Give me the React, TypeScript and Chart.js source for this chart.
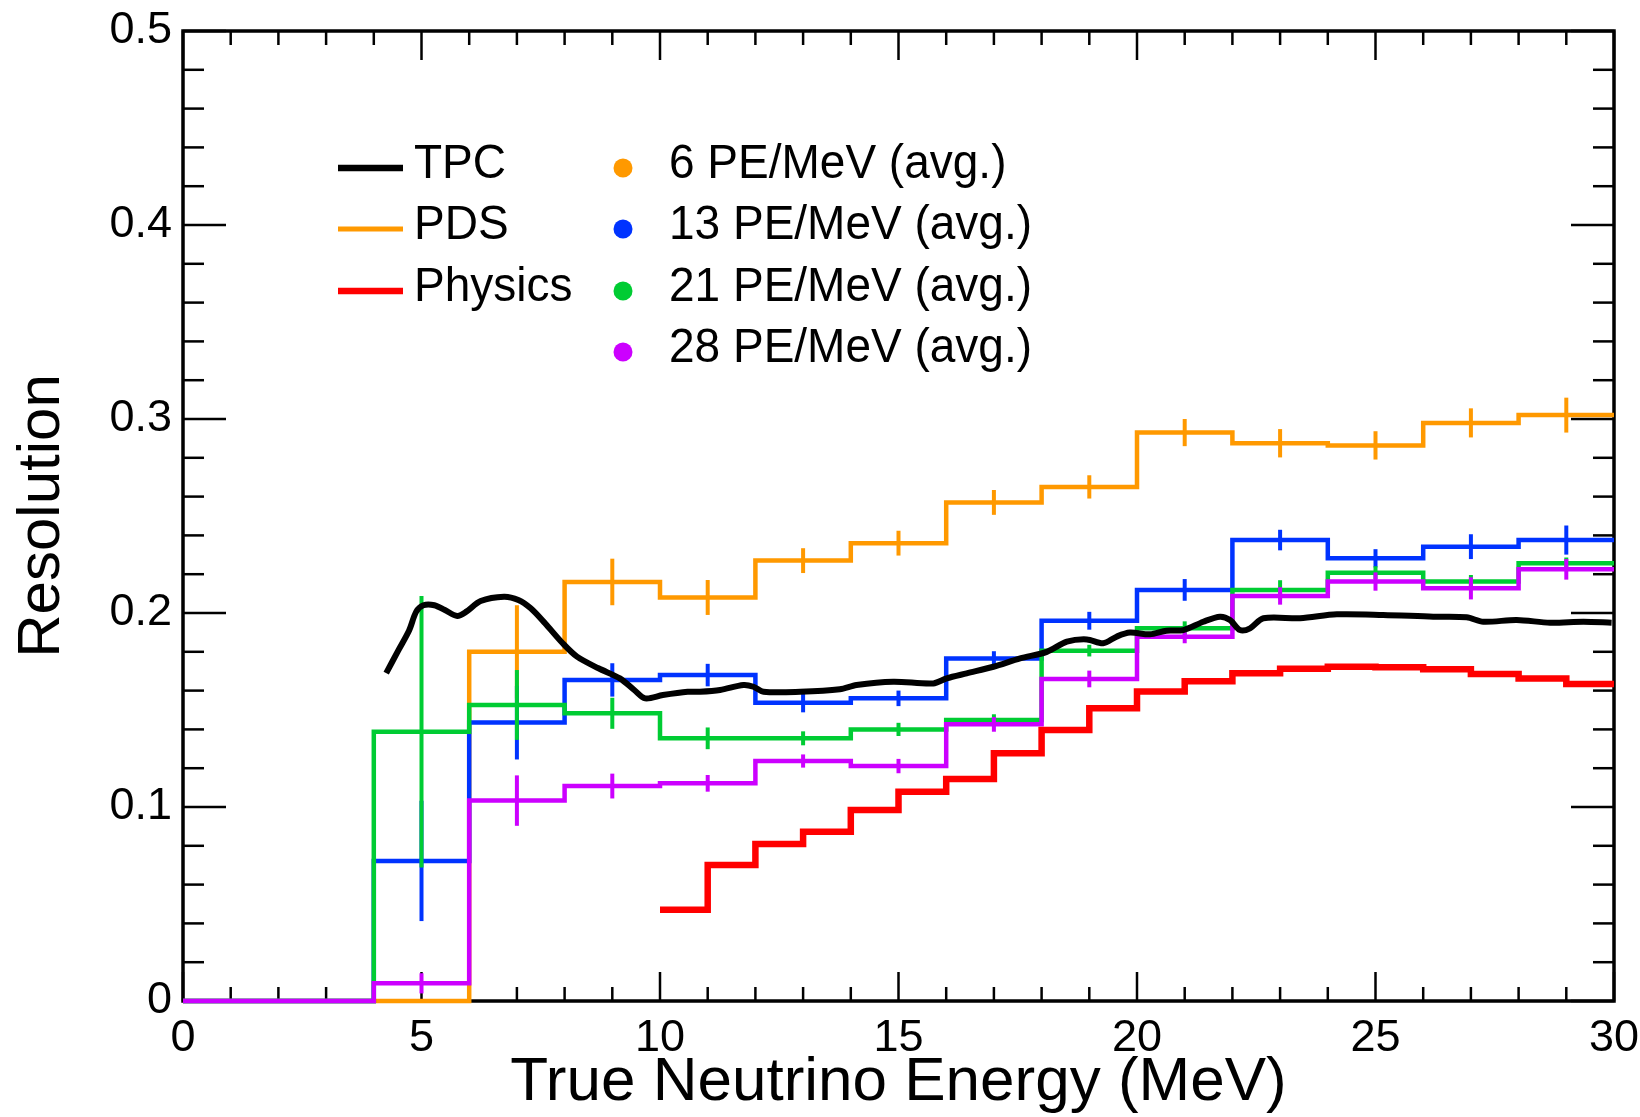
import React, { useEffect, useRef } from 'react';
import { Chart, registerables } from 'chart.js';

Chart.register(...registerables);

// ---------- DATA ----------
const binEdges = [0, 2, 4, 6, 8, 10, 12, 14, 16, 18, 20, 22, 24, 26, 28, 30];

const pe6Values = [0, 0, 0, 0.18, 0.216, 0.208, 0.227, 0.236, 0.257, 0.265, 0.293, 0.2875, 0.2864, 0.298, 0.302];
const pe6Errors = [0, 0, 0, 0.024, 0.012, 0.009, 0.0064, 0.0064, 0.0064, 0.006, 0.007, 0.0073, 0.0073, 0.0075, 0.009];

const pe13Values = [0, 0, 0.0722, 0.1435, 0.1655, 0.168, 0.1538, 0.156, 0.1766, 0.196, 0.2119, 0.2376, 0.2282, 0.2342, 0.2376];
const pe13Errors = [0, 0, 0.031, 0.019, 0.0086, 0.0058, 0.005, 0.004, 0.0037, 0.0046, 0.0056, 0.0053, 0.0047, 0.0064, 0.0075];

const pe21Values = [0, 0, 0.1388, 0.1526, 0.1483, 0.1354, 0.1354, 0.14, 0.1448, 0.1806, 0.1921, 0.2119, 0.2208, 0.2162, 0.2256];
const pe21Errors = [0, 0, 0.07, 0.018, 0.008, 0.0056, 0.0036, 0.0034, 0.003, 0.003, 0.0036, 0.005, 0.0033, 0.0034, 0.003];

const pe28Values = [0, 0, 0.0091, 0.1033, 0.1108, 0.1122, 0.1237, 0.1211, 0.1426, 0.166, 0.1878, 0.2088, 0.2162, 0.2127, 0.2225];
const pe28Errors = [0, 0, 0.0052, 0.013, 0.0064, 0.0043, 0.0034, 0.0037, 0.0038, 0.0043, 0.0034, 0.0045, 0.0047, 0.0057, 0.0053];

const physicsEdges = [10, 11, 12, 13, 14, 15, 16, 17, 18, 19, 20, 21, 22, 23, 24, 25, 26, 27, 28, 29, 30];
const physicsValues = [0.047, 0.0701, 0.0809, 0.0873, 0.0985, 0.1079, 0.1144, 0.1277, 0.1397, 0.1509, 0.1596, 0.1648, 0.1689, 0.1713, 0.1723, 0.172, 0.171, 0.1686, 0.1663, 0.1634];

const tpcEnergy = [4.26, 4.52, 4.74, 4.89, 5.04, 5.27, 5.49, 5.75, 5.94, 6.24, 6.73, 7.03, 7.29, 7.59, 7.96, 8.26, 8.71, 9.16, 9.46, 9.69, 10.06, 10.58, 10.84, 11.26, 11.75, 11.96, 12.17, 12.94, 13.77, 14.12, 14.89, 15.73, 16.01, 16.43, 16.99, 17.55, 18.11, 18.53, 18.95, 19.29, 19.57, 19.85, 20.27, 20.62, 20.97, 21.39, 21.74, 21.95, 22.16, 22.37, 22.65, 23.42, 24.19, 25.16, 26.21, 26.91, 27.26, 27.96, 28.66, 29.36, 29.95];
const tpcResolution = [0.169, 0.181, 0.191, 0.2007, 0.204, 0.204, 0.2015, 0.1985, 0.2007, 0.2062, 0.2084, 0.2067, 0.2024, 0.1947, 0.1844, 0.1775, 0.1715, 0.1663, 0.1603, 0.156, 0.1577, 0.1594, 0.1594, 0.1603, 0.1629, 0.162, 0.1594, 0.1594, 0.1607, 0.1629, 0.1646, 0.1637, 0.1663, 0.1689, 0.1723, 0.1766, 0.18, 0.1852, 0.1864, 0.1844, 0.1878, 0.1899, 0.189, 0.1909, 0.1912, 0.1955, 0.1981, 0.1964, 0.1912, 0.1921, 0.1973, 0.1973, 0.1993, 0.199, 0.1981, 0.1978, 0.1955, 0.1964, 0.195, 0.1955, 0.195];

const xTickLabels = ['0', '5', '10', '15', '20', '25', '30'];
const yTickLabels = ['0', '0.1', '0.2', '0.3', '0.4', '0.5'];

const lineLegendLabels = ['TPC', 'PDS', 'Physics'];
const dotLegendLabels = ['6 PE/MeV (avg.)', '13 PE/MeV (avg.)', '21 PE/MeV (avg.)', '28 PE/MeV (avg.)'];

// ---------- STYLE ----------
const FONT = "'Liberation Sans', Arial, Helvetica, sans-serif";
const C_ORANGE = '#ff9900';
const C_BLUE = '#0033ff';
const C_GREEN = '#00cc33';
const C_PURPLE = '#cc00ff';
const C_RED = '#ff0000';
const C_BLACK = '#000000';

function histPoints(edges: number[], values: number[]) {
  const pts = values.map((v, i) => ({ x: edges[i], y: v }));
  pts.push({ x: edges[edges.length - 1], y: values[values.length - 1] });
  return pts;
}
function centers(edges: number[]) {
  return edges.slice(0, -1).map((e, i) => (e + edges[i + 1]) / 2);
}

function histDataset(label: string, values: number[], errors: number[], color: string) {
  return {
    label,
    data: histPoints(binEdges, values),
    borderColor: color,
    backgroundColor: color,
    borderWidth: 4.5,
    stepped: 'before',
    pointRadius: 0,
    fill: false,
    clip: 6,
    errors,
    centers: centers(binEdges),
  } as any;
}

const errorBarPlugin = {
  id: 'errorBars',
  afterDatasetDraw(chart: any, args: any) {
    const ds = chart.data.datasets[args.index];
    if (!ds.errors) return;
    const { ctx, scales } = chart;
    const x = scales.x, y = scales.y;
    ctx.save();
    ctx.strokeStyle = ds.borderColor;
    ctx.lineWidth = 4;
    ds.errors.forEach((e: number, i: number) => {
      if (!e) return;
      const v = ds.data[i].y;
      const px = x.getPixelForValue(ds.centers[i]);
      ctx.beginPath();
      ctx.moveTo(px, y.getPixelForValue(v - e));
      ctx.lineTo(px, y.getPixelForValue(v + e));
      ctx.stroke();
    });
    ctx.restore();
  },
};

const frameTicksPlugin = {
  id: 'frameTicks',
  beforeDatasetsDraw(chart: any) {
    const { ctx, chartArea: a, scales } = chart;
    const x = scales.x, y = scales.y;
    ctx.save();
    ctx.strokeStyle = '#000';
    ctx.lineWidth = 2.5;
    const seg = (x1: number, y1: number, x2: number, y2: number) => {
      ctx.beginPath(); ctx.moveTo(x1, y1); ctx.lineTo(x2, y2); ctx.stroke();
    };
    const yMinorStep = 0.02;
    for (let i = 0; i <= Math.round(0.5 / yMinorStep); i++) {
      const p = y.getPixelForValue(i * yMinorStep);
      const len = i % 5 === 0 ? 43 : 21;
      seg(a.left, p, a.left + len, p);
      seg(a.right, p, a.right - len, p);
    }
    for (let i = 0; i <= 30; i++) {
      const p = x.getPixelForValue(i);
      const len = i % 5 === 0 ? 29 : 14;
      seg(p, a.bottom, p, a.bottom - len);
      seg(p, a.top, p, a.top + len);
    }
    ctx.lineWidth = 3.5;
    ctx.strokeRect(a.left, a.top, a.right - a.left, a.bottom - a.top);
    ctx.restore();
  },
};

const legendPlugin = {
  id: 'customLegend',
  afterDraw(chart: any) {
    const { ctx } = chart;
    ctx.save();
    ctx.font = `46px ${FONT}`;
    ctx.textBaseline = 'middle';
    ctx.textAlign = 'left';
    ctx.fillStyle = '#000';
    const rows = [168, 229, 291, 352];
    const text = (t: string, x: number, y: number) => {
      ctx.save();
      ctx.translate(x, y);
      ctx.scale(1, 1.06);
      ctx.fillText(t, 0, 0);
      ctx.restore();
    };
    const lineColors = [C_BLACK, C_ORANGE, C_RED];
    const lineWidths = [6.5, 5, 6.5];
    lineLegendLabels.forEach((t, i) => {
      ctx.strokeStyle = lineColors[i];
      ctx.lineWidth = lineWidths[i];
      ctx.beginPath();
      ctx.moveTo(338, rows[i]);
      ctx.lineTo(403, rows[i]);
      ctx.stroke();
      text(t, 414, rows[i] - 3);
    });
    const dotColors = [C_ORANGE, C_BLUE, C_GREEN, C_PURPLE];
    dotLegendLabels.forEach((t, i) => {
      ctx.fillStyle = dotColors[i];
      ctx.beginPath();
      ctx.arc(623, rows[i], 9.5, 0, Math.PI * 2);
      ctx.fill();
      ctx.fillStyle = '#000';
      text(t, 669, rows[i] - 3);
    });
    ctx.restore();
  },
};

export default function App() {
  const ref = useRef<HTMLCanvasElement>(null);
  useEffect(() => {
    if (!ref.current) return;
    const chart = new Chart(ref.current, {
      type: 'line',
      data: {
        datasets: [
          {
            label: 'TPC',
            data: tpcEnergy.map((e, i) => ({ x: e, y: tpcResolution[i] })),
            borderColor: C_BLACK,
            borderWidth: 6,
            pointRadius: 0,
            tension: 0.3,
            fill: false,
          } as any,
          {
            label: 'Physics',
            data: histPoints(physicsEdges, physicsValues),
            borderColor: C_RED,
            borderWidth: 6.5,
            stepped: 'before',
            pointRadius: 0,
            fill: false,
          } as any,
          histDataset('28 PE/MeV (avg.)', pe28Values, pe28Errors, C_PURPLE),
          histDataset('21 PE/MeV (avg.)', pe21Values, pe21Errors, C_GREEN),
          histDataset('13 PE/MeV (avg.)', pe13Values, pe13Errors, C_BLUE),
          histDataset('6 PE/MeV (avg.)', pe6Values, pe6Errors, C_ORANGE),
        ],
      },
      options: {
        responsive: false,
        animation: false,
        devicePixelRatio: 1,
        layout: { padding: { top: 31, right: 26, left: 0, bottom: 0 } },
        plugins: { legend: { display: false }, tooltip: { enabled: false } },
        scales: {
          x: {
            type: 'linear',
            min: 0,
            max: 30,
            afterFit: (s: any) => {
              s.height = 116;
              s.paddingLeft = 0;
              s.paddingRight = 0;
            },
            grid: { display: false, drawTicks: false },
            border: { display: false },
            ticks: {
              stepSize: 5,
              autoSkip: false,
              maxRotation: 0,
              padding: 11,
              color: '#000',
              font: { family: FONT, size: 45 },
              callback: (v: any) => xTickLabels[Math.round(Number(v) / 5)],
            },
            title: {
              display: true,
              text: 'True Neutrino Energy (MeV)',
              color: '#000',
              font: { family: FONT, size: 62, lineHeight: 1 },
              padding: { top: 0, bottom: 3 },
            },
          },
          y: {
            type: 'linear',
            min: 0,
            max: 0.5,
            afterFit: (s: any) => {
              s.width = 183;
              s.paddingTop = 0;
              s.paddingBottom = 0;
            },
            grid: { display: false, drawTicks: false },
            border: { display: false },
            ticks: {
              stepSize: 0.1,
              autoSkip: false,
              padding: 11,
              color: '#000',
              font: { family: FONT, size: 45 },
              callback: (v: any) => yTickLabels[Math.round(Number(v) * 10)],
            },
            title: {
              display: true,
              text: 'Resolution',
              color: '#000',
              font: { family: FONT, size: 60, lineHeight: 1 },
              padding: { top: 12, bottom: 0 },
            },
          },
        },
      } as any,
      plugins: [frameTicksPlugin, errorBarPlugin, legendPlugin],
    });
    return () => chart.destroy();
  }, []);
  return (
    <div style={{ position: 'absolute', left: 0, top: 0, width: 1640, height: 1117, background: '#fff' }}>
      <canvas ref={ref} width={1640} height={1117} style={{ display: 'block', width: 1640, height: 1117 }} />
    </div>
  );
}
